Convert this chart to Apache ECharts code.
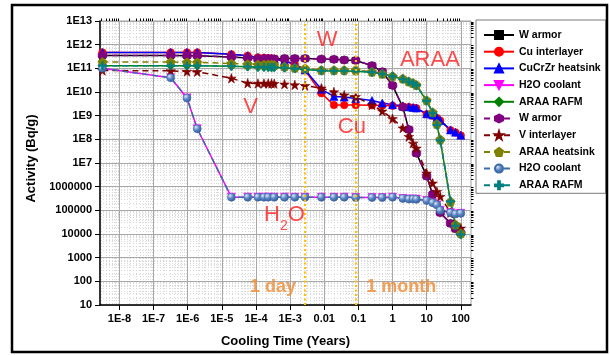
<!DOCTYPE html>
<html>
<head>
<meta charset="utf-8">
<script src="https://cdn.jsdelivr.net/npm/echarts@6/dist/echarts.min.js"></script>
<style>
  html, body { margin: 0; padding: 0; background: #fff; }
  #chart { width: 610px; height: 355px; }
</style>
</head>
<body>
<div id="chart"></div>
<script>
// Cooling times after shutdown, in years (0.1 s ... 100 y)
const COOLING_TIME = [
  3.17e-9, 3.17e-7, 9.51e-7, 1.90e-6, 1.90e-5, 5.71e-5,
  1.14e-4, 1.71e-4, 2.28e-4, 2.85e-4, 3.42e-4, 6.85e-4,
  1.37e-3, 2.74e-3, 8.22e-3, 1.92e-2, 3.84e-2, 8.33e-2,
  0.25, 0.5, 1, 2, 3, 4, 5, 10, 15, 20, 25, 50, 70, 100
];

// Specific activity (Bq/g), Cu / CuCrZr divertor variant
const W_ARMOR_A = [
  3.5e11, 3.5e11, 3.4e11, 3.4e11, 3.0e11, 2.75e11,
  2.55e11, 2.5e11, 2.5e11, 2.5e11, 2.5e11, 2.6e11,
  2.6e11, 2.6e11, 2.45e11, 2.4e11, 2.25e11, 2.15e11,
  1.3e11, 7.2e10, 1.9e10, 2.3e9, 2.6e8, null, 2.6e7, 2.8e6, 4.7e5, null, 8.0e4, 2.8e4, 1.65e4, 1.1e4
];
const CU_INTERLAYER = [
  4.7e11, 4.7e11, 4.7e11, 4.7e11, 3.9e11, 3.4e11,
  2.9e11, 2.8e11, 2.7e11, 2.6e11, 2.5e11, 2.05e11,
  1.5e11, 8.3e10, 8.9e9, 2.8e9, 2.8e9, 2.8e9,
  2.75e9, 2.7e9, 2.6e9, 2.45e9, 2.3e9, 2.15e9, 2.05e9, 1.15e9, 1.0e9, 8.0e8, 6.1e8, 2.4e8, 1.95e8, 1.45e8
];
const CUCRZR_HEATSINK = [
  4.7e11, 4.7e11, 4.7e11, 4.7e11, 3.9e11, 3.4e11,
  2.9e11, 2.8e11, 2.7e11, 2.6e11, 2.5e11, 2.05e11,
  1.5e11, 8.5e10, 1.3e10, 6.5e9, 6.1e9, 5.3e9,
  4.4e9, 3.4e9, 2.9e9, 2.6e9, 2.35e9, 2.2e9, 2.1e9, 1.2e9, 1.07e9, 8.3e8, 6.3e8, 2.5e8, 2.0e8, 1.5e8
];
const H2O_COOLANT_A = [
  1.0e11, 4.0e10, 5.6e9, 2.8e8, 3.6e5, 3.6e5,
  3.6e5, 3.6e5, 3.6e5, null, 3.6e5, 3.6e5,
  3.6e5, 3.6e5, 3.6e5, 3.6e5, 3.6e5, 3.5e5,
  3.5e5, 3.5e5, 3.6e5, 3.2e5, 3.0e5, 3.0e5, 2.95e5, 2.6e5, 2.1e5, 1.7e5, 1.0e5, 8.0e4, 7.0e4, 7.5e4
];
const ARAA_RAFM_A = [
  1.3e11, 1.3e11, 1.3e11, 1.3e11, 1.23e11, 1.17e11,
  1.12e11, 1.12e11, 1.11e11, 1.1e11, 1.1e11, 1.05e11,
  9.8e10, 8.9e10, 7.9e10, 7.8e10, 7.8e10, 7.6e10,
  6.9e10, 5.8e10, 4.6e10, 3.5e10, 2.7e10, 2.3e10, 1.9e10, 4.2e9, 1.3e9, 4.0e8, 9.0e7, 2.4e5, 2.2e4, 9.5e3
];

// Specific activity (Bq/g), V / ARAA divertor variant
const W_ARMOR_B = [
  3.5e11, 3.5e11, 3.4e11, 3.4e11, 3.0e11, 2.75e11,
  2.55e11, 2.5e11, 2.5e11, 2.5e11, 2.5e11, 2.6e11,
  2.6e11, 2.6e11, 2.45e11, 2.4e11, 2.25e11, 2.15e11,
  1.3e11, 7.2e10, 1.9e10, 2.3e9, 2.6e8, null, 2.6e7, 2.8e6, 4.7e5, null, 8.0e4, 2.8e4, 1.65e4, 1.1e4
];
const V_INTERLAYER = [
  8.1e10, 7.8e10, 7.4e10, 7.2e10, 3.8e10, 2.35e10,
  2.3e10, 2.3e10, 2.3e10, 2.3e10, 2.25e10, 2.15e10,
  2.0e10, 1.85e10, 1.45e10, 1.0e10, 7.4e9, 6.3e9,
  2.8e9, 1.55e9, 7.4e8, 3.0e8, 1.3e8, 6.8e7, 4.2e7, 3.7e6, 1.4e6, 6.2e5, 3.8e5, 8.0e4, 2.4e4, 1.75e4
];
const ARAA_HEATSINK = [
  1.85e11, 1.85e11, 1.8e11, 1.8e11, 1.6e11, 1.5e11,
  1.45e11, 1.45e11, 1.45e11, 1.45e11, 1.4e11, 1.2e11,
  1.07e11, 1.0e11, 8.5e10, 8.5e10, 8.5e10, 8.5e10,
  7.2e10, 5.9e10, 4.7e10, 3.7e10, 2.8e10, 2.4e10, 2.0e10, 4.5e9, 1.4e9, 4.5e8, 1.0e8, 2.3e5, 2.5e4, 1.07e4
];
const H2O_COOLANT_B = [
  1.0e11, 4.0e10, 5.6e9, 2.8e8, 3.6e5, 3.6e5,
  3.6e5, 3.6e5, 3.6e5, null, 3.6e5, 3.6e5,
  3.6e5, 3.6e5, 3.6e5, 3.6e5, 3.6e5, 3.5e5,
  3.5e5, 3.5e5, 3.6e5, 3.2e5, 3.0e5, 3.0e5, 2.95e5, 2.6e5, 2.1e5, 1.7e5, 1.0e5, 8.0e4, 7.0e4, 7.5e4
];
const ARAA_RAFM_B = [
  1.3e11, 1.3e11, 1.3e11, 1.3e11, 1.23e11, 1.17e11,
  1.12e11, 1.12e11, 1.11e11, 1.1e11, 1.1e11, 1.05e11,
  9.8e10, 8.9e10, 7.9e10, 7.8e10, 7.8e10, 7.6e10,
  6.9e10, 5.8e10, 4.6e10, 3.5e10, 2.7e10, 2.3e10, 1.9e10, 4.2e9, 1.3e9, 4.0e8, 9.0e7, 2.4e5, 2.2e4, 9.5e3
];

// Labelled decades on both axes
const X_TICKS = [1e-8, 1e-7, 1e-6, 1e-5, 1e-4, 1e-3, 1e-2, 1e-1, 1, 10, 100];
const X_TICK_LABELS = ['1E-8', '1E-7', '1E-6', '1E-5', '1E-4', '1E-3', '0.01', '0.1', '1', '10', '100'];
const Y_TICKS = [1e1, 1e2, 1e3, 1e4, 1e5, 1e6, 1e7, 1e8, 1e9, 1e10, 1e11, 1e12, 1e13];
const Y_TICK_LABELS = ['10', '100', '1000', '10000', '100000', '1000000', '1E7', '1E8', '1E9', '1E10', '1E11', '1E12', '1E13'];

// Reference times marked by vertical lines
const ONE_DAY = 1 / 365;
const ONE_MONTH = 1 / 12;

const X_MIN = 2.69e-9, X_MAX = 199;
const Y_MIN = 10, Y_MAX = 1e13;

const FONT = '"Liberation Sans", Arial, Helvetica, sans-serif';

// Marker shapes not built into ECharts
const HEXAGON = 'path://M5,0L9.33,2.5L9.33,7.5L5,10L0.67,7.5L0.67,2.5Z';
const PENTAGON = 'path://M5,0L9.76,3.45L7.94,9.05L2.06,9.05L0.24,3.45Z';
const STAR = 'path://M5,0L6.18,3.6L10,3.6L6.91,5.85L8.09,9.5L5,7.25L1.91,9.5L3.09,5.85L0,3.6L3.82,3.6Z';
const PLUS = 'path://M3.9,0H6.1V3.9H10V6.1H6.1V10H3.9V6.1H0V3.9H3.9Z';

const sphereFill = new echarts.graphic.RadialGradient(0.35, 0.32, 0.75, [
  { offset: 0, color: '#dbe7f7' },
  { offset: 0.45, color: '#5d88c6' },
  { offset: 1, color: '#2a518e' }
]);

const SERIES = [
  { key: 'w_a', label: 'W armor', values: W_ARMOR_A, color: '#000000', symbol: 'rect', size: 6.5 },
  { key: 'cu_a', label: 'Cu interlayer', values: CU_INTERLAYER, color: '#FF0000', symbol: 'circle', size: 7.5 },
  { key: 'hs_a', label: 'CuCrZr heatsink', values: CUCRZR_HEATSINK, color: '#0000FF', symbol: 'triangle', size: 8 },
  { key: 'h2o_a', label: 'H2O coolant', values: H2O_COOLANT_A, color: '#FF00FF', symbol: 'triangle', rotate: 180, size: 8 },
  { key: 'rafm_a', label: 'ARAA RAFM', values: ARAA_RAFM_A, color: '#008000', symbol: 'diamond', size: 8.5 },
  { key: 'w_b', label: 'W armor', values: W_ARMOR_B, color: '#800080', symbol: HEXAGON, size: 8.5, dashed: true },
  { key: 'v_b', label: 'V interlayer', values: V_INTERLAYER, color: '#800000', symbol: STAR, size: 9.5, dashed: true },
  { key: 'hs_b', label: 'ARAA heatsink', values: ARAA_HEATSINK, color: '#808000', symbol: PENTAGON, size: 9, dashed: true },
  { key: 'h2o_b', label: 'H2O coolant', values: H2O_COOLANT_B, color: '#3d6cab', symbol: 'circle', size: 8, dashed: true, fill: sphereFill },
  { key: 'rafm_b', label: 'ARAA RAFM', values: ARAA_RAFM_B, color: '#008080', symbol: PLUS, size: 8, dashed: true }
];

// In-plot annotations, anchored in data coordinates (years, Bq/g)
const RED = '#FF1E1E', ORANGE = '#F08A2E';
const NOTES = [
  { text: 'W', t: 0.0121, a: 1.57e12, kind: 'red' },
  { text: 'ARAA', t: 12.4, a: 2.25e11, kind: 'red' },
  { text: 'V', t: 7.0e-5, a: 2.45e9, kind: 'red' },
  { text: 'Cu', t: 0.0643, a: 3.5e8, kind: 'red' },
  { text: '{m|H}{s|2}{m|O}', t: 6.8e-4, a: 5.9e4, kind: 'red' },
  { text: '1 day', t: 3.17e-4, a: 55, kind: 'orange' },
  { text: '1 month', t: 1.79, a: 55, kind: 'orange' }
];

function minorValues(lo, hi) {
  const out = [];
  for (let e = Math.floor(Math.log10(lo)); e <= Math.ceil(Math.log10(hi)); e++) {
    for (let k = 2; k <= 9; k++) {
      const v = k * Math.pow(10, e);
      if (v > lo && v < hi) out.push(v);
    }
  }
  return out;
}

function tickLabel(ticks, labels) {
  return function (value) {
    for (let i = 0; i < ticks.length; i++) {
      if (Math.abs(Math.log10(value) - Math.log10(ticks[i])) < 1e-6) return labels[i];
    }
    return '';
  };
}

const tickTextStyle = { fontFamily: FONT, fontSize: 11, fontWeight: 'bold', color: '#000' };

// Decade axis: line, labels, long ticks, major grid
function mainAxis(min, max, ticks, labels, name, nameGap, namePadding) {
  return {
    type: 'log', logBase: 10, min: min, max: max,
    name: name, nameLocation: 'middle', nameGap: nameGap,
    nameTextStyle: { fontFamily: FONT, fontSize: 13, fontWeight: 'bold', color: '#000', padding: namePadding },
    axisLine: { show: true, onZero: false, lineStyle: { color: '#000', width: 1.5 } },
    axisTick: { show: true, inside: false, length: 5, customValues: ticks, lineStyle: { color: '#000', width: 1 } },
    axisLabel: Object.assign({ show: true, margin: 8, customValues: ticks, formatter: tickLabel(ticks, labels) }, tickTextStyle),
    splitLine: { show: true, lineStyle: { color: '#a8a8a8', width: 1 } },
    minorTick: { show: false },
    minorSplitLine: { show: false },
    z: 1
  };
}

// Companion axis carrying the 2..9 sub-decade grid lines
function minorGridAxis(min, max, minors) {
  return {
    type: 'log', logBase: 10, min: min, max: max,
    axisLine: { show: false },
    axisTick: { show: false, customValues: minors },
    axisLabel: { show: false, customValues: minors },
    splitLine: { show: true, lineStyle: { color: '#d9d9d9', width: 1, type: [1, 2] } },
    z: 0
  };
}

// Companion axis carrying the short sub-decade ticks (lands on the labelled side)
function minorTickAxis(min, max, minors, position) {
  return {
    type: 'log', logBase: 10, min: min, max: max, position: position,
    axisLine: { show: false },
    axisTick: { show: true, inside: false, length: 2.5, customValues: minors, lineStyle: { color: '#000', width: 1 } },
    axisLabel: { show: false, customValues: minors },
    splitLine: { show: false },
    z: 1
  };
}

const lineSeries = SERIES.map(function (s) {
  return {
    type: 'line',
    name: s.key,
    xAxisIndex: 0, yAxisIndex: 0,
    data: COOLING_TIME.map(function (t, i) { return [t, s.values[i]]; }).filter(function (p) { return p[1] != null; }),
    symbol: s.symbol,
    symbolSize: s.size,
    symbolRotate: s.rotate || 0,
    showAllSymbol: true,
    lineStyle: { color: s.color, width: 1.5, type: s.dashed ? [6, 4] : 'solid' },
    itemStyle: { color: s.fill || s.color, borderColor: s.color, borderWidth: 0.6 },
    emphasis: { disabled: true },
    silent: true,
    z: 2
  };
});

const markerLine = function (t) {
  return [{ coord: [t, Y_MIN] }, { coord: [t, Y_MAX] }];
};

const noteSeries = {
  type: 'scatter',
  name: 'notes',
  xAxisIndex: 0, yAxisIndex: 0,
  silent: true,
  z: 5,
  symbolSize: 1,
  itemStyle: { color: 'rgba(0,0,0,0)' },
  data: NOTES.map(function (n) {
    const base = n.kind === 'red'
      ? { fontFamily: FONT, fontSize: 22, color: RED }
      : { fontFamily: FONT, fontSize: 18, fontWeight: 'bold', color: ORANGE };
    return {
      value: [n.t, n.a],
      label: Object.assign({
        show: true, position: 'inside', formatter: n.text,
        rich: {
          m: { fontFamily: FONT, fontSize: 22, color: RED, lineHeight: 24, verticalAlign: 'top' },
          s: { fontFamily: FONT, fontSize: 14, color: RED, lineHeight: 14, padding: [15, 0, 0, 0], verticalAlign: 'top' }
        }
      }, base)
    };
  }),
  markLine: {
    silent: true,
    symbol: ['none', 'none'],
    label: { show: false },
    lineStyle: { color: '#FFC000', type: [2, 2.5], width: 2.2 },
    data: [markerLine(ONE_DAY), markerLine(ONE_MONTH)]
  }
};

const labelOf = {};
SERIES.forEach(function (s) { labelOf[s.key] = s.label; });

const X_MINOR = minorValues(X_MIN, X_MAX);
const Y_MINOR = minorValues(Y_MIN, Y_MAX);

const chart = echarts.init(document.getElementById('chart'), null, { renderer: 'canvas' });
chart.setOption({
  animation: false,
  backgroundColor: '#ffffff',
  grid: {
    left: 100, right: 139, top: 21, bottom: 50,
    show: true, borderColor: '#a0a0a0', borderWidth: 1, backgroundColor: '#ffffff',
    containLabel: false, outerBoundsMode: 'none'
  },
  xAxis: [
    mainAxis(X_MIN, X_MAX, X_TICKS, X_TICK_LABELS, 'Cooling Time (Years)', 30, 0),
    minorGridAxis(X_MIN, X_MAX, X_MINOR),
    minorTickAxis(X_MIN, X_MAX, X_MINOR, 'top')
  ],
  yAxis: [
    mainAxis(Y_MIN, Y_MAX, Y_TICKS, Y_TICK_LABELS, 'Activity (Bq/g)', 50, [0, 0, 0, 9]),
    minorGridAxis(Y_MIN, Y_MAX, Y_MINOR),
    minorTickAxis(Y_MIN, Y_MAX, Y_MINOR, 'right')
  ],
  legend: {
    orient: 'vertical',
    left: 476, top: 20,
    padding: [8, 5, 1, 7],
    itemGap: 2.7,
    itemWidth: 30, itemHeight: 10,
    borderColor: '#7a7a7a', borderWidth: 1,
    backgroundColor: '#ffffff',
    selectedMode: false,
    data: SERIES.map(function (s) { return s.key; }),
    formatter: function (key) { return labelOf[key]; },
    textStyle: { fontFamily: FONT, fontSize: 10.5, fontWeight: 'bold', color: '#000', lineHeight: 14 }
  },
  graphic: [{
    type: 'rect', silent: true, z: 100,
    shape: { x: 12, y: 5, width: 595, height: 347 },
    style: { fill: null, stroke: '#000', lineWidth: 2.5 }
  }],
  series: lineSeries.concat([noteSeries])
});
</script>
</body>
</html>
